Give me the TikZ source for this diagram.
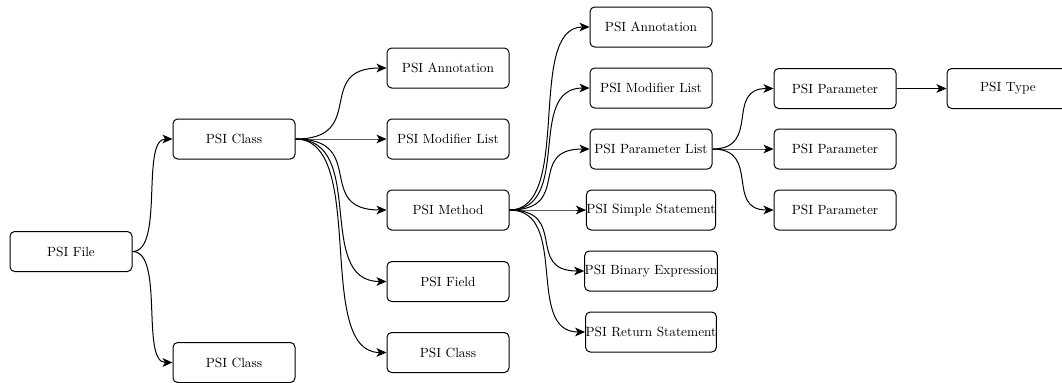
\documentclass[tikz,border=0pt]{standalone}
\usetikzlibrary{arrows.meta,calc}

\tikzset{
  psinode/.style={draw, line width=0.75pt, rounded corners=3.5pt,
    minimum width=91.5pt, minimum height=30pt, inner sep=0pt, font=\normalsize},
  edge/.style={line width=0.75pt, -{Stealth[length=7.5pt,width=6.5pt,inset=2pt]}}
}
% S-shaped connector from the east side of #1 to the west side of #2,
% leaving and entering horizontally with a steep middle part
\newcommand\linknodes[2]{%
  \draw[edge] let \p1=(#1.east), \p2=(#2.west) in
    (\p1) .. controls (0.2*\x1+0.8*\x2,\y1) and (0.8*\x1+0.2*\x2,\y2) .. (\p2);}

\begin{document}
\begin{tikzpicture}[x=0.75pt,y=-0.75pt]
\useasboundingbox (0,0) rectangle (1062,382);

% tree of PSI elements
\node[psinode] (file)   at (71,251.5) {PSI File};
\node[psinode] (classA) at (234,139)  {PSI Class};
\node[psinode] (classB) at (234,362.5) {PSI Class};

\node[psinode] (annA)   at (448,68)    {PSI Annotation};
\node[psinode] (modA)   at (448,139)   {PSI Modifier List};
\node[psinode] (method) at (448,210)   {PSI Method};
\node[psinode] (field)  at (448,281.5) {PSI Field};
\node[psinode] (classC) at (448,352.5) {PSI Class};

\node[psinode] (annB)   at (651,27)  {PSI Annotation};
\node[psinode] (modB)   at (651,88)  {PSI Modifier List};
\node[psinode] (plist)  at (651,149) {PSI Parameter List};
\node[psinode] (simple) at (651,210) {PSI Simple Statement};
\node[psinode] (binary) at (651,271) {PSI Binary Expression};
\node[psinode] (ret)    at (651,332) {PSI Return Statement};

\node[psinode] (parA) at (835,88.5) {PSI Parameter};
\node[psinode] (parB) at (835,149)  {PSI Parameter};
\node[psinode] (parC) at (835,210)  {PSI Parameter};

\node[psinode] (type) at (1008,88.5) {PSI Type};

% connectors
\linknodes{file}{classA}
\linknodes{file}{classB}

\linknodes{classA}{annA}
\linknodes{classA}{modA}
\linknodes{classA}{method}
\linknodes{classA}{field}
\linknodes{classA}{classC}

\linknodes{method}{annB}
\linknodes{method}{modB}
\linknodes{method}{plist}
\linknodes{method}{simple}
\linknodes{method}{binary}
\linknodes{method}{ret}

\linknodes{plist}{parA}
\linknodes{plist}{parB}
\linknodes{plist}{parC}

\linknodes{parA}{type}
\end{tikzpicture}
\end{document}
